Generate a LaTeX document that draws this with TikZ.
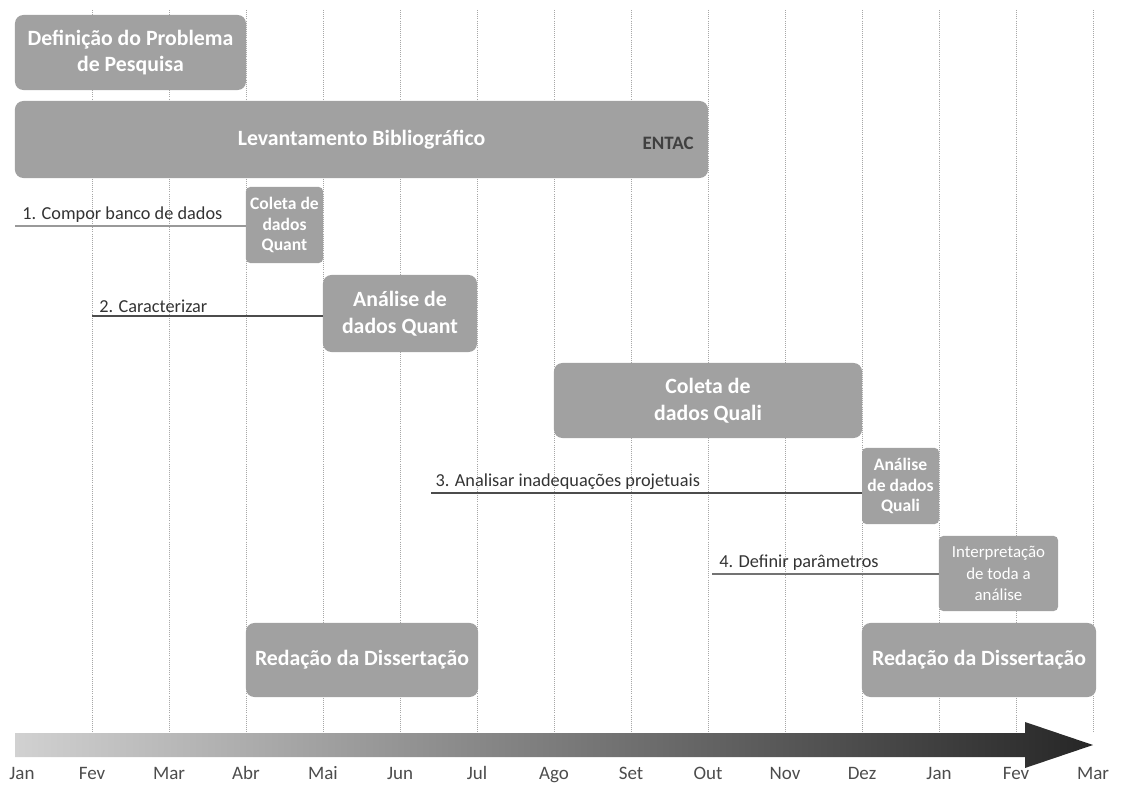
\documentclass[tikz,border=0pt]{standalone}
\usepackage{fontspec}
\setmainfont{Carlito}
\usetikzlibrary{calc, positioning}

\begin{document}
\begin{tikzpicture}[x=0.025cm, y=-0.025cm,
  etapa/.style={fill=black!37, rounded corners=6pt, inner sep=0pt, align=center,
                text=white, font=\fontsize{15.5}{19}\selectfont\bfseries},
  etapap/.style={etapa, rounded corners=3pt, font=\fontsize{12.5}{14.6}\selectfont\bfseries},
  objetivo/.style={font=\fontsize{13}{15}\selectfont, text=black!80, anchor=south west, inner sep=2pt},
  traco/.style={draw=black!70, line width=0.8pt},
  mes/.style={font=\fontsize{13.5}{15}\selectfont, text=black!70, anchor=base},
  grade/.style={densely dotted, draw=black!35, line width=0.5pt}
]
\useasboundingbox (0,0) rectangle (1131,788);

\foreach \i in {1,...,14} {
  \draw[grade] (15+77*\i,10) -- (15+77*\i,732);
}

\node[etapa, minimum width=5.775cm, minimum height=1.875cm] (defprob) at (130.5,52.5)
  {Definição do Problema\\de Pesquisa};
\node[etapa, minimum width=17.325cm, minimum height=1.925cm] (levbib) at (361.5,139.5)
  {Levantamento Bibliográfico};
\node[font=\fontsize{13.5}{15}\selectfont\bfseries, text=black!75, anchor=east]
  (entac) at ([xshift=-7pt, yshift=-3pt]levbib.east) {ENTAC};

\node[etapap, minimum width=1.925cm, minimum height=1.9cm] (coletaquant) at (284.5,225)
  {Coleta de\\dados\\Quant};
\node[etapa, minimum width=3.85cm, minimum height=1.925cm] (analquant) at (400,313.5)
  {Análise de\\dados Quant};
\node[etapa, minimum width=7.7cm, minimum height=1.875cm] (coletaquali) at (708,400.5)
  {Coleta de\\dados Quali};
\node[etapap, minimum width=1.925cm, minimum height=1.9cm] (analquali) at (900.5,486)
  {Análise\\de dados\\Quali};
\node[etapap, font=\fontsize{12}{15}\selectfont, minimum width=2.975cm, minimum height=1.875cm]
  (interp) at (998.5,573.5) {Interpretação\\de toda a\\análise};
\node[etapa, minimum width=5.8cm, minimum height=1.85cm] (redacao1) at (362,660)
  {Redação da Dissertação};
\node[etapa, minimum width=5.85cm, minimum height=1.85cm] (redacao2) at (979,660)
  {Redação da Dissertação};

\coordinate (c1) at (15,226);
\coordinate (c2) at (92,316);
\coordinate (c3) at (431,493);
\coordinate (c4) at (712,574);
\draw[traco, draw=black!40] (c1) -- (c1 -| coletaquant.west);
\draw[traco] (c2) -- (c2 -| analquant.west);
\draw[traco] (c3) -- (c3 -| analquali.west);
\draw[traco, draw=black!55] (c4) -- (c4 -| interp.west);
\node[objetivo] (obj1) at ([xshift=3pt]c1) {1. Compor banco de dados};
\node[objetivo] (obj2) at ([xshift=3pt]c2) {2. Caracterizar};
\node[objetivo] (obj3) at ([xshift=1pt]c3) {3. Analisar inadequações projetuais};
\node[objetivo] (obj4) at ([xshift=3pt]c4) {4. Definir parâmetros};

\shade[left color=black!18, right color=black!85]
  (15,733) -- (1025,733) -- (1025,722) -- (1093,745) -- (1025,768) -- (1025,757)
  -- (15,757) -- cycle;

\foreach \m [count=\i from 0] in {Jan,Fev,Mar,Abr,Mai,Jun,Jul,Ago,Set,Out,Nov,Dez,Jan,Fev,Mar} {
  \node[mes] (m\i) at ({max(22,15+77*\i)},779) {\m};
}
\end{tikzpicture}
\end{document}
